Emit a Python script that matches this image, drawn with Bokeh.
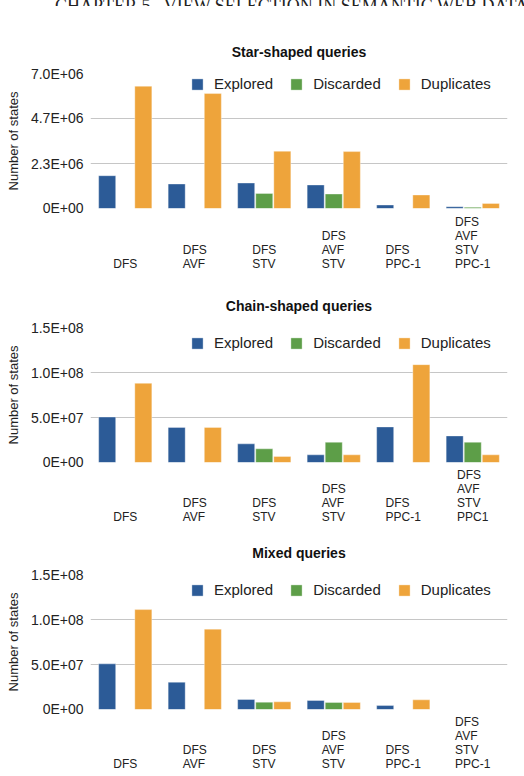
from bokeh.plotting import figure
from bokeh.models import (FactorRange, Range1d, FixedTicker, Legend, LegendItem,
                          Div, ColumnDataSource, Grid)
from bokeh.core.properties import value
from bokeh.transform import dodge
from bokeh.layouts import column
from bokeh.embed import file_html
from bokeh.resources import INLINE

FONT = "Liberation Sans"

series = ["Explored", "Discarded", "Duplicates"]
series_colors = ["#2c5b97", "#5d9e48", "#eea43b"]

# Star-shaped queries
star_methods = ["DFS", "DFS AVF", "DFS STV", "DFS AVF STV", "DFS PPC-1", "DFS AVF STV PPC-1"]
star_explored = [1.70e6, 1.27e6, 1.32e6, 1.22e6, 0.18e6, 0.09e6]
star_discarded = [0.0, 0.0, 0.78e6, 0.75e6, 0.0, 0.06e6]
star_duplicates = [6.34e6, 5.96e6, 2.97e6, 2.95e6, 0.70e6, 0.26e6]
star_ticks = [0, 2.3333e6, 4.6667e6, 7.0e6]
star_tick_labels = ["0E+00", "2.3E+06", "4.7E+06", "7.0E+06"]

# Chain-shaped queries
chain_methods = ["DFS", "DFS AVF", "DFS STV", "DFS AVF STV", "DFS PPC-1", "DFS AVF STV PPC1"]
chain_explored = [5.05e7, 3.9e7, 2.07e7, 0.85e7, 3.95e7, 2.95e7]
chain_discarded = [0.0, 0.0, 1.52e7, 2.25e7, 0.0, 2.25e7]
chain_duplicates = [8.8e7, 3.9e7, 0.67e7, 0.85e7, 1.087e8, 0.85e7]
chain_ticks = [0, 5.0e7, 1.0e8, 1.5e8]
chain_tick_labels = ["0E+00", "5.0E+07", "1.0E+08", "1.5E+08"]

# Mixed queries
mixed_methods = ["DFS", "DFS AVF", "DFS STV", "DFS AVF STV", "DFS PPC-1", "DFS AVF STV PPC-1"]
mixed_explored = [5.07e7, 3.03e7, 1.11e7, 1.0e7, 0.44e7, 0.0]
mixed_discarded = [0.0, 0.0, 0.81e7, 0.78e7, 0.0, 0.0]
mixed_duplicates = [1.11e8, 8.93e7, 0.85e7, 0.78e7, 1.07e7, 0.0]
mixed_ticks = [0, 5.0e7, 1.0e8, 1.5e8]
mixed_tick_labels = ["0E+00", "5.0E+07", "1.0E+08", "1.5E+08"]

LEFT, RIGHT = 90, 17


def make_chart(title, methods, explored, discarded, duplicates, ticks, tick_labels,
               height, border_top, border_bottom, legend_gap, label_height):
    src = ColumnDataSource(dict(method=methods,
                                label=[m.replace(" ", "\n") for m in methods],
                                Explored=explored, Discarded=discarded,
                                Duplicates=duplicates))
    p = figure(x_range=FactorRange(*methods), y_range=Range1d(0, ticks[-1]),
               width=524, height=height, output_backend="svg", toolbar_location=None,
               min_border_left=LEFT, min_border_right=RIGHT,
               min_border_top=border_top, min_border_bottom=border_bottom)
    p.outline_line_color = None
    p.background_fill_color = "white"

    p.title.text = title
    p.title.align = "center"
    p.title.text_font = FONT
    p.title.text_font_size = "14px"
    p.title.text_font_style = "bold"
    p.title.text_color = "#111111"
    p.title.standoff = 28

    # y axis with fixed, pre-formatted tick labels
    p.yaxis.ticker = FixedTicker(ticks=ticks)
    p.yaxis.major_label_overrides = {t: s for t, s in zip(ticks, tick_labels)}
    p.yaxis.axis_line_color = None
    p.yaxis.major_tick_line_color = None
    p.yaxis.minor_tick_line_color = None
    p.yaxis.major_tick_in = 0
    p.yaxis.major_tick_out = 0
    p.yaxis.major_label_standoff = 7
    p.yaxis.major_label_text_font = FONT
    p.yaxis.major_label_text_font_size = "14px"
    p.yaxis.major_label_text_color = "#222222"
    p.yaxis.axis_label = "Number of states"
    p.yaxis.axis_label_text_font = FONT
    p.yaxis.axis_label_text_font_size = "13px"
    p.yaxis.axis_label_text_font_style = "normal"
    p.yaxis.axis_label_text_color = "#222222"
    p.yaxis.axis_label_standoff = 7

    p.ygrid.ticker = FixedTicker(ticks=ticks)
    p.ygrid.grid_line_color = "#c6c6c6"
    p.ygrid.grid_line_width = 1
    p.xgrid.grid_line_color = None
    p.xaxis.visible = False

    # dark baseline at zero, drawn above the bars
    p.add_layout(Grid(dimension=1, ticker=FixedTicker(ticks=[0]),
                      grid_line_color="#3c3c3c", grid_line_width=1.5, level="overlay"))

    offsets = [-0.26, 0.0, 0.26]
    items = []
    for name, color, off in zip(series, series_colors, offsets):
        r = p.vbar(x=dodge("method", off, range=p.x_range), top=name, width=0.245,
                   source=src, fill_color=color, line_color="white", line_alpha=0.35,
                   line_width=1)
        items.append(LegendItem(label=name, renderers=[r]))

    frame_h = height - border_top - border_bottom
    legend = Legend(items=items, orientation="horizontal",
                    location=(100, frame_h - legend_gap - 16),
                    glyph_width=14, glyph_height=14, label_height=14,
                    label_standoff=10, spacing=16, padding=0, margin=0,
                    background_fill_alpha=0, border_line_color=None,
                    label_text_font=FONT, label_text_font_size="15px",
                    label_text_color="#222222")
    p.add_layout(legend)

    # stacked method names under each group, in a strip sharing the x range
    lab = figure(x_range=p.x_range, y_range=Range1d(0, 1), title=None,
                 x_axis_location=None, y_axis_location=None,
                 width=524, height=label_height, output_backend="svg",
                 toolbar_location=None, min_border_left=LEFT, min_border_right=RIGHT,
                 min_border_top=0, min_border_bottom=0)
    lab.grid.visible = False
    lab.outline_line_color = None
    lab.text(x="method", y=0, text="label", source=src,
             anchor=value("bottom_center"), text_align="left",
             text_font=value(FONT), text_font_size="12px",
             text_line_height=1.0, text_color="#222222")
    return p, lab


header = Div(
    text=('<div style="font-family:\'Liberation Serif\';font-size:18px;line-height:18px;'
          'margin-top:-10px;margin-left:55px;white-space:nowrap;color:#222">'
          'CHAPTER 5.&nbsp; VIEW SELECTION IN SEMANTIC WEB DATA</div>'),
    width=524, height=6, margin=0, styles={"overflow": "hidden"})

star, star_lab = make_chart("Star-shaped queries", star_methods, star_explored,
                            star_discarded, star_duplicates, star_ticks, star_tick_labels,
                            209, 67, 7, 3, 55)
chain, chain_lab = make_chart("Chain-shaped queries", chain_methods, chain_explored,
                              chain_discarded, chain_duplicates, chain_ticks,
                              chain_tick_labels, 199, 57, 7, 8, 54)
mixed, mixed_lab = make_chart("Mixed queries", mixed_methods, mixed_explored,
                              mixed_discarded, mixed_duplicates, mixed_ticks,
                              mixed_tick_labels, 193, 51, 7, 8, 54)

page = column(header, star, star_lab, chain, chain_lab, mixed, mixed_lab, spacing=0)
open("out.html", "w").write(file_html(page, INLINE))
